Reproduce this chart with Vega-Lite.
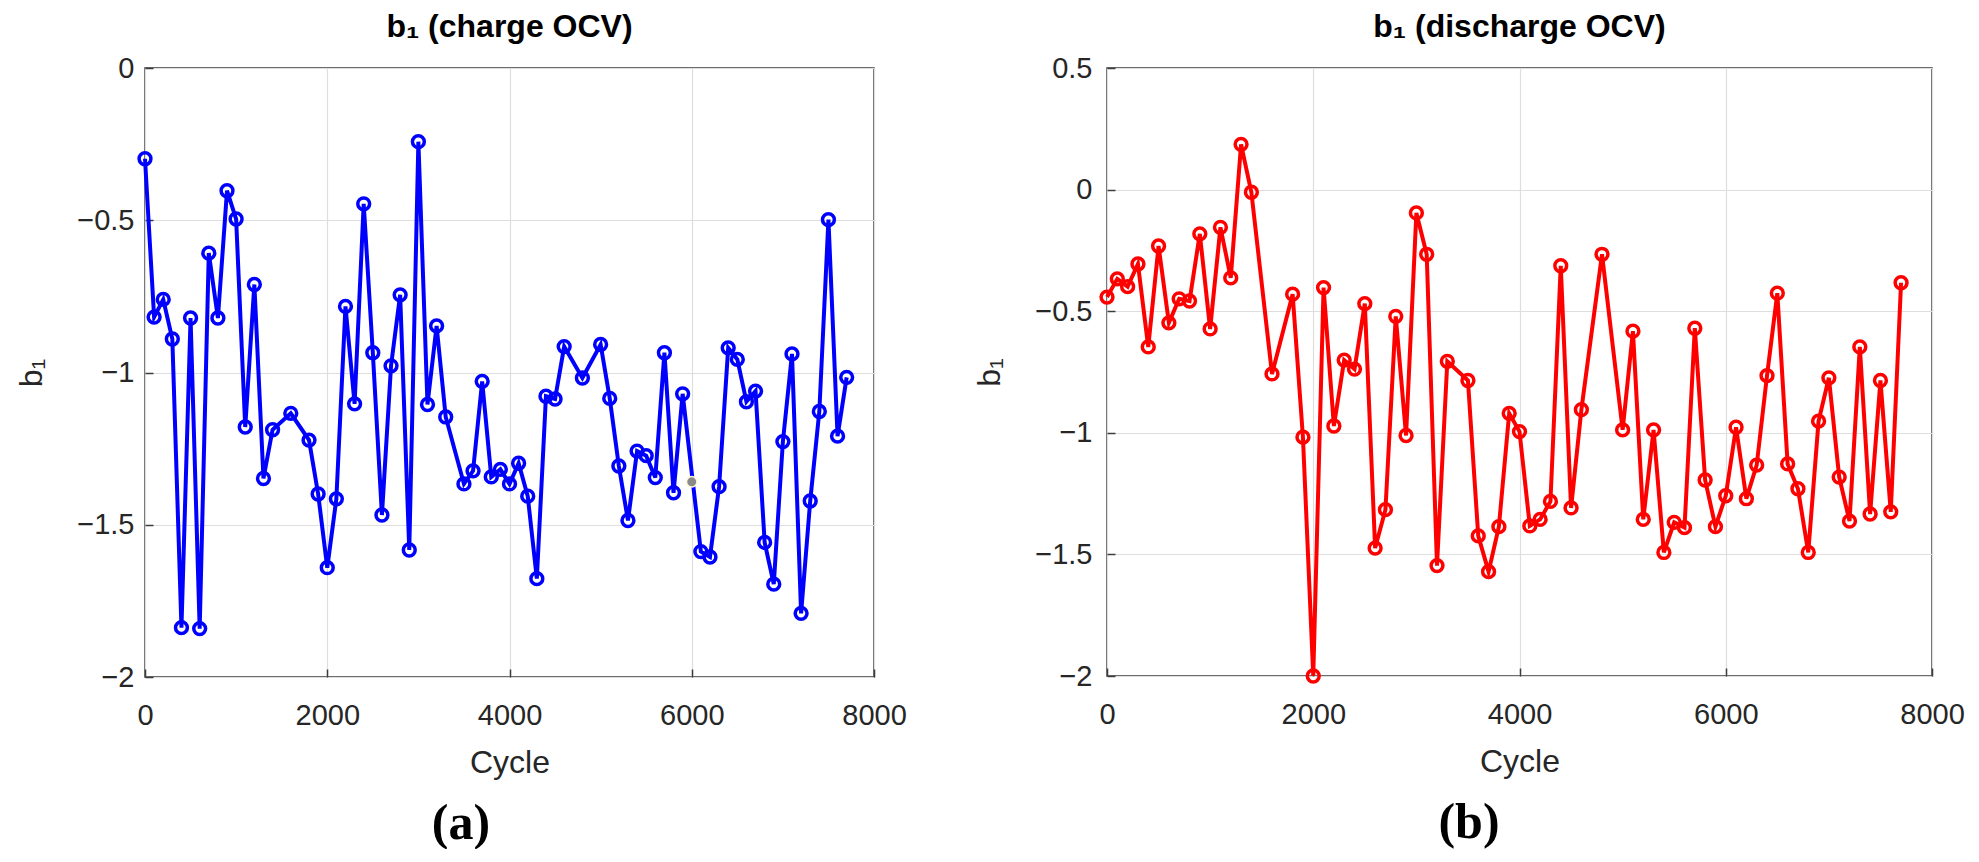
{
  "$schema": "https://vega.github.io/schema/vega-lite/v6.json",
  "background": "white",
  "padding": {"left": 15, "top": 10, "right": 0, "bottom": 0},
  "spacing": 65,
  "datasets": {
    "charge": [
      {"cycle": 0, "b1": -0.298}, {"cycle": 100, "b1": -0.818}, {"cycle": 200, "b1": -0.76},
      {"cycle": 300, "b1": -0.89}, {"cycle": 400, "b1": -1.838}, {"cycle": 500, "b1": -0.821},
      {"cycle": 600, "b1": -1.841}, {"cycle": 700, "b1": -0.608}, {"cycle": 800, "b1": -0.821},
      {"cycle": 900, "b1": -0.403}, {"cycle": 1000, "b1": -0.496}, {"cycle": 1100, "b1": -1.179},
      {"cycle": 1200, "b1": -0.711}, {"cycle": 1300, "b1": -1.348}, {"cycle": 1400, "b1": -1.188},
      {"cycle": 1600, "b1": -1.134}, {"cycle": 1800, "b1": -1.222}, {"cycle": 1900, "b1": -1.399},
      {"cycle": 2000, "b1": -1.641}, {"cycle": 2100, "b1": -1.415}, {"cycle": 2200, "b1": -0.783},
      {"cycle": 2300, "b1": -1.103}, {"cycle": 2400, "b1": -0.446}, {"cycle": 2500, "b1": -0.935},
      {"cycle": 2600, "b1": -1.468}, {"cycle": 2700, "b1": -0.978}, {"cycle": 2800, "b1": -0.745},
      {"cycle": 2900, "b1": -1.583}, {"cycle": 3000, "b1": -0.242}, {"cycle": 3100, "b1": -1.105},
      {"cycle": 3200, "b1": -0.847}, {"cycle": 3300, "b1": -1.146}, {"cycle": 3500, "b1": -1.366},
      {"cycle": 3600, "b1": -1.323}, {"cycle": 3700, "b1": -1.029}, {"cycle": 3800, "b1": -1.343},
      {"cycle": 3900, "b1": -1.318}, {"cycle": 4000, "b1": -1.366}, {"cycle": 4100, "b1": -1.298},
      {"cycle": 4200, "b1": -1.406}, {"cycle": 4300, "b1": -1.677}, {"cycle": 4400, "b1": -1.078},
      {"cycle": 4500, "b1": -1.087}, {"cycle": 4600, "b1": -0.915}, {"cycle": 4800, "b1": -1.018},
      {"cycle": 5000, "b1": -0.908}, {"cycle": 5100, "b1": -1.085}, {"cycle": 5200, "b1": -1.307},
      {"cycle": 5300, "b1": -1.486}, {"cycle": 5400, "b1": -1.258}, {"cycle": 5500, "b1": -1.273},
      {"cycle": 5600, "b1": -1.345}, {"cycle": 5700, "b1": -0.935}, {"cycle": 5800, "b1": -1.395},
      {"cycle": 5900, "b1": -1.07}, {"cycle": 6100, "b1": -1.588}, {"cycle": 6200, "b1": -1.606},
      {"cycle": 6300, "b1": -1.375}, {"cycle": 6400, "b1": -0.919}, {"cycle": 6500, "b1": -0.957},
      {"cycle": 6600, "b1": -1.096}, {"cycle": 6700, "b1": -1.061}, {"cycle": 6800, "b1": -1.558},
      {"cycle": 6900, "b1": -1.695}, {"cycle": 7000, "b1": -1.227}, {"cycle": 7100, "b1": -0.939},
      {"cycle": 7200, "b1": -1.791}, {"cycle": 7300, "b1": -1.422}, {"cycle": 7400, "b1": -1.128},
      {"cycle": 7500, "b1": -0.498}, {"cycle": 7600, "b1": -1.209}, {"cycle": 7700, "b1": -1.016}
    ],
    "tip": [
      {"cycle": 6000, "b1": -1.359}
    ],
    "discharge": [
      {"cycle": 0, "b1": -0.442}, {"cycle": 100, "b1": -0.367}, {"cycle": 200, "b1": -0.399},
      {"cycle": 300, "b1": -0.306}, {"cycle": 400, "b1": -0.647}, {"cycle": 500, "b1": -0.232},
      {"cycle": 600, "b1": -0.548}, {"cycle": 700, "b1": -0.449}, {"cycle": 800, "b1": -0.458},
      {"cycle": 900, "b1": -0.182}, {"cycle": 1000, "b1": -0.573}, {"cycle": 1100, "b1": -0.155},
      {"cycle": 1200, "b1": -0.363}, {"cycle": 1300, "b1": 0.186}, {"cycle": 1400, "b1": -0.011},
      {"cycle": 1600, "b1": -0.758}, {"cycle": 1800, "b1": -0.43}, {"cycle": 1900, "b1": -1.018},
      {"cycle": 2000, "b1": -2.0}, {"cycle": 2100, "b1": -0.403}, {"cycle": 2200, "b1": -0.972},
      {"cycle": 2300, "b1": -0.701}, {"cycle": 2400, "b1": -0.738}, {"cycle": 2500, "b1": -0.469},
      {"cycle": 2600, "b1": -1.474}, {"cycle": 2700, "b1": -1.316}, {"cycle": 2800, "b1": -0.521},
      {"cycle": 2900, "b1": -1.011}, {"cycle": 3000, "b1": -0.096}, {"cycle": 3100, "b1": -0.266},
      {"cycle": 3200, "b1": -1.546}, {"cycle": 3300, "b1": -0.706}, {"cycle": 3500, "b1": -0.785},
      {"cycle": 3600, "b1": -1.424}, {"cycle": 3700, "b1": -1.571}, {"cycle": 3800, "b1": -1.386},
      {"cycle": 3900, "b1": -0.92}, {"cycle": 4000, "b1": -0.995}, {"cycle": 4100, "b1": -1.383},
      {"cycle": 4200, "b1": -1.356}, {"cycle": 4300, "b1": -1.282}, {"cycle": 4400, "b1": -0.313},
      {"cycle": 4500, "b1": -1.309}, {"cycle": 4600, "b1": -0.905}, {"cycle": 4800, "b1": -0.266},
      {"cycle": 5000, "b1": -0.988}, {"cycle": 5100, "b1": -0.582}, {"cycle": 5200, "b1": -1.356},
      {"cycle": 5300, "b1": -0.988}, {"cycle": 5400, "b1": -1.492}, {"cycle": 5500, "b1": -1.368},
      {"cycle": 5600, "b1": -1.39}, {"cycle": 5700, "b1": -0.57}, {"cycle": 5800, "b1": -1.194},
      {"cycle": 5900, "b1": -1.386}, {"cycle": 6000, "b1": -1.259}, {"cycle": 6100, "b1": -0.977},
      {"cycle": 6200, "b1": -1.271}, {"cycle": 6300, "b1": -1.133}, {"cycle": 6400, "b1": -0.765},
      {"cycle": 6500, "b1": -0.426}, {"cycle": 6600, "b1": -1.128}, {"cycle": 6700, "b1": -1.23},
      {"cycle": 6800, "b1": -1.492}, {"cycle": 6900, "b1": -0.952}, {"cycle": 7000, "b1": -0.774},
      {"cycle": 7100, "b1": -1.182}, {"cycle": 7200, "b1": -1.363}, {"cycle": 7300, "b1": -0.647},
      {"cycle": 7400, "b1": -1.334}, {"cycle": 7500, "b1": -0.785}, {"cycle": 7600, "b1": -1.325},
      {"cycle": 7700, "b1": -0.383}
    ]
  },
  "hconcat": [
    {
      "title": {"text": "(a)", "orient": "bottom", "anchor": "middle", "font": "Liberation Serif", "fontSize": 50, "fontWeight": "bold", "color": "#000000", "offset": 20},
      "vconcat": [
        {
          "title": {"text": "b₁ (charge OCV)", "frame": "group", "anchor": "middle", "offset": 10},
          "width": 729,
          "height": 609,
          "data": {"name": "charge"},
          "encoding": {
            "x": {
              "field": "cycle",
              "type": "quantitative",
              "title": "Cycle",
              "scale": {"domain": [0, 8000], "nice": false, "zero": false},
              "axis": {"values": [0, 2000, 4000, 6000, 8000], "format": "d"}
            },
            "y": {
              "field": "b1",
              "type": "quantitative",
              "title": "b₁",
              "scale": {"domain": [-2, 0], "nice": false, "zero": false},
              "axis": {"values": [-2, -1.5, -1, -0.5, 0], "format": "~g"}
            }
          },
          "layer": [
            {"mark": {"type": "line", "color": "#0000ff", "strokeWidth": 4}},
            {"mark": {"type": "point", "filled": false, "color": "#0000ff", "size": 140, "strokeWidth": 3.5, "opacity": 1}},
            {
              "data": {"name": "tip"},
              "mark": {"type": "point", "filled": true, "fill": "#8a8a8a", "stroke": "#fff8d8", "strokeWidth": 1.5, "size": 110, "opacity": 1}
            }
          ]
        }
      ]
    },
    {
      "title": {"text": "(b)", "orient": "bottom", "anchor": "middle", "font": "Liberation Serif", "fontSize": 50, "fontWeight": "bold", "color": "#000000", "offset": 20},
      "vconcat": [
        {
          "title": {"text": "b₁ (discharge OCV)", "frame": "group", "anchor": "middle", "offset": 10},
          "width": 825,
          "height": 608,
          "data": {"name": "discharge"},
          "encoding": {
            "x": {
              "field": "cycle",
              "type": "quantitative",
              "title": "Cycle",
              "scale": {"domain": [0, 8000], "nice": false, "zero": false},
              "axis": {"values": [0, 2000, 4000, 6000, 8000], "format": "d"}
            },
            "y": {
              "field": "b1",
              "type": "quantitative",
              "title": "b₁",
              "scale": {"domain": [-2, 0.5], "nice": false, "zero": false},
              "axis": {"values": [-2, -1.5, -1, -0.5, 0, 0.5], "format": "~g", "labelPadding": 23}
            }
          },
          "layer": [
            {"mark": {"type": "line", "color": "#ff0000", "strokeWidth": 4}},
            {"mark": {"type": "point", "filled": false, "color": "#ff0000", "size": 140, "strokeWidth": 3.5, "opacity": 1}}
          ]
        }
      ]
    }
  ],
  "config": {
    "font": "Liberation Sans",
    "view": {"stroke": "#3c3c3c", "strokeWidth": 1.5},
    "title": {"font": "Liberation Sans", "fontSize": 32, "fontWeight": "bold", "color": "#000000"},
    "axis": {
      "domain": false,
      "labelFont": "Liberation Sans",
      "labelFontSize": 29,
      "labelColor": "#262626",
      "titleFont": "Liberation Sans",
      "titleFontSize": 32,
      "titleFontWeight": "normal",
      "titleColor": "#262626",
      "gridColor": "#dedede",
      "gridWidth": 1.2,
      "tickColor": "#3c3c3c",
      "tickSize": -8,
      "tickWidth": 1.5,
      "labelFlush": false,
      "labelOverlap": false
    },
    "axisX": {"labelPadding": 32, "titlePadding": 17},
    "axisY": {"labelPadding": 19, "titlePadding": 28}
  }
}
